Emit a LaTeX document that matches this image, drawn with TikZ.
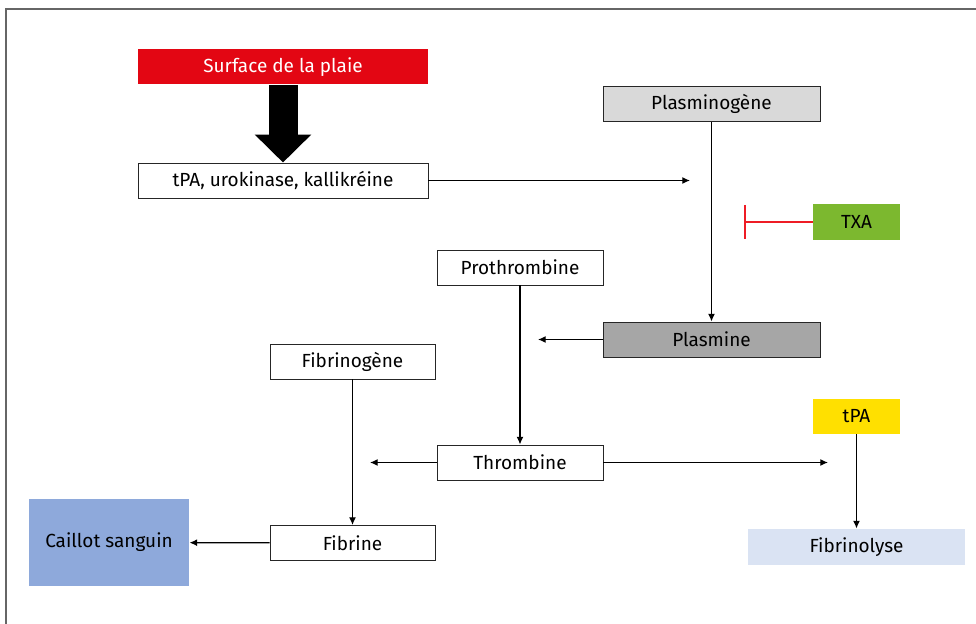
\documentclass[tikz,border=0pt]{standalone}
\usepackage{fontspec}
\setmainfont{Fira Sans}
\usetikzlibrary{arrows.meta}

\definecolor{plaie}{HTML}{E30613}
\definecolor{gris}{HTML}{D9D9D9}
\definecolor{grisfonce}{HTML}{A6A6A6}
\definecolor{txa}{HTML}{7CB82F}
\definecolor{jaune}{HTML}{FFE000}
\definecolor{caillot}{HTML}{8EA9DB}
\definecolor{bleuclair}{HTML}{DAE3F3}
\definecolor{rouge}{HTML}{EE1C25}

\tikzset{
  box/.style={draw=black!85, line width=0.7pt, fill=white, inner sep=0pt,
    minimum height=35*0.025cm, font=\fontsize{13.5}{16}\selectfont},
  flat/.style={box, draw=none},
  fleche/.style={line width=0.9pt, -{Latex[length=5.5pt,width=5pt]}}
}

\begin{document}
\begin{tikzpicture}[x=0.025cm,y=-0.025cm]
        \useasboundingbox (0,0) rectangle (976,624);
        \draw[line width=1.1pt, black!60] (6,624) -- (6,9) -- (976,9);

        \node[flat, fill=plaie, text=white, minimum width=290*0.025cm] (plaie) at (283,67) {Surface de la plaie};
        \node[box, minimum width=290*0.025cm] (activ) at (283,180.5) {tPA, urokinase, kallikréine};
        \node[box, fill=gris, minimum width=217*0.025cm] (plgene) at (711.5,104) {Plasminogène};
        \node[box, fill=grisfonce, minimum width=217*0.025cm] (plasmine) at (711.5,339.5) {Plasmine};
        \node[flat, fill=txa, minimum width=87*0.025cm, minimum height=36*0.025cm] (txa) at (856.5,222) {TXA};
        \node[box, minimum width=166*0.025cm] (prothr) at (520,267.5) {Prothrombine};
        \node[box, minimum width=166*0.025cm] (thr) at (520,462.5) {Thrombine};
        \node[box, minimum width=165*0.025cm] (fgene) at (352.5,361.5) {Fibrinogène};
        \node[box, minimum width=165*0.025cm] (fibrine) at (352.5,543) {Fibrine};
        \node[flat, fill=caillot, minimum width=160*0.025cm, minimum height=87*0.025cm] (caillot) at (109,542.5) {Caillot sanguin};
        \node[flat, fill=jaune, minimum width=87*0.025cm] (tpa) at (856.5,416.5) {tPA};
        \node[flat, fill=bleuclair, minimum width=217*0.025cm, minimum height=36*0.025cm] (lyse) at (856.5,547) {Fibrinolyse};

        \coordinate (a1) at (690,180.5);
        \coordinate (a2) at (538,339.5);
        \coordinate (a3) at (370,462.5);
        \coordinate (a4) at (828,462.5);
        \coordinate (inh) at (745,222);
        \coordinate (inhhaut) at (745,205);
        \coordinate (inhbas) at (745,239);

        % grosse fleche
        \draw[line width=29*0.025cm, -{Triangle[length=28*0.025cm,width=55*0.025cm]}] (plaie.south) -- (activ.north);

        \draw[fleche] (activ) -- (a1);
        \draw[fleche] (plgene) -- (plasmine);
        \draw[fleche] (plasmine) -- (a2);
        % inhibition
        \draw[rouge, line width=1.1pt] (txa) -- (inh);
        \draw[rouge, line width=1.2pt] (inhhaut) -- (inhbas);
        \draw[fleche] (prothr) -- (thr);
        \draw[fleche] (thr) -- (a3);
        \draw[fleche] (thr) -- (a4);
        \draw[fleche] (fgene) -- (fibrine);
        \draw[fleche] (fibrine) -- (caillot);
        \draw[fleche] (tpa) -- (lyse);
    \end{tikzpicture}
\end{document}
